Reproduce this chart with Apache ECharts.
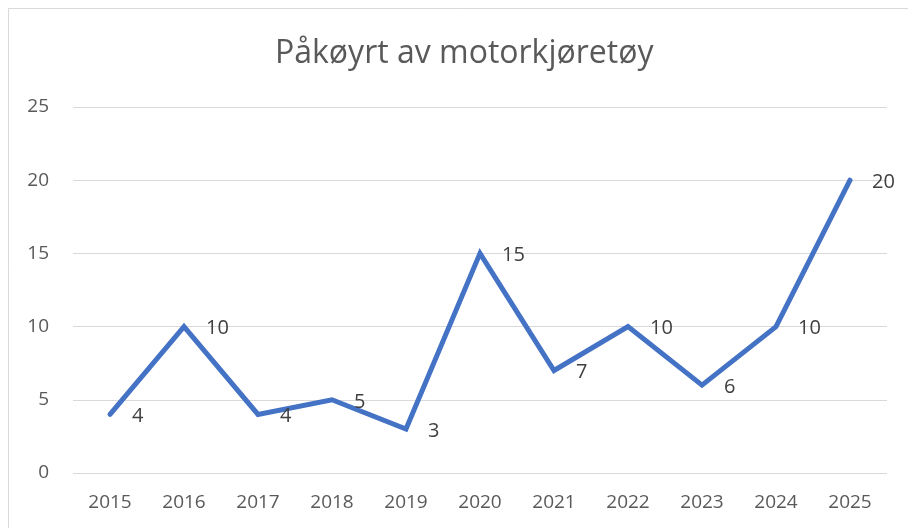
<!DOCTYPE html>
<html>
<head>
<meta charset="utf-8">
<script src="https://cdn.jsdelivr.net/npm/echarts@6/dist/echarts.min.js"></script>
<style>
html, body { margin: 0; padding: 0; background: #fff; }
#lineChart { width: 908px; height: 528px; }
</style>
</head>
<body>
<div id="lineChart"></div>
<script>
let years = ['2015', '2016', '2017', '2018', '2019', '2020', '2021', '2022', '2023', '2024', '2025'];
let counts = [4, 10, 4, 5, 3, 15, 7, 10, 6, 10, 20];
let yTicks = [0, 5, 10, 15, 20, 25];

let myChart = echarts.init(document.getElementById('lineChart'));
myChart.setOption({
    backgroundColor: '#fff',
    textStyle: { fontFamily: 'Open Sans' },
    title: {
        text: 'Påkøyrt av motorkjøretøy',
        left: 270,
        top: 33,
        textStyle: {
            color: '#595959',
            fontSize: 32,
            fontWeight: 'normal',
            fontFamily: 'Open Sans'
        }
    },
    // ramme rundt diagrammet
    graphic: [{
        type: 'rect',
        shape: { x: 8.5, y: 8.5, width: 920, height: 540 },
        style: { fill: 'none', stroke: '#d9d9d9', lineWidth: 1 },
        silent: true
    }],
    grid: { left: 73, right: 21, top: 107, bottom: 55 },
    xAxis: {
        type: 'category',
        data: years,
        boundaryGap: true,
        axisLine: { show: false },
        axisTick: { show: false },
        axisLabel: { color: '#595959', fontSize: 19, margin: 20 }
    },
    yAxis: {
        type: 'value',
        min: yTicks[0],
        max: yTicks[yTicks.length - 1],
        interval: 5,
        axisLine: { show: false },
        axisTick: { show: false },
        axisLabel: { color: '#595959', fontSize: 19, margin: 24 },
        splitLine: { lineStyle: { color: '#d9d9d9', width: 1 } }
    },
    series: [{
        type: 'line',
        data: counts,
        symbol: 'circle',
        symbolSize: 0,
        showSymbol: true,
        itemStyle: { color: '#4472c4' },
        lineStyle: { color: '#4472c4', width: 5, cap: 'round', join: 'miter' },
        label: {
            show: true,
            position: 'right',
            distance: 22,
            offset: [0, 2],
            color: '#404040',
            opacity: 1,
            fontSize: 20
        }
    }]
});
window.addEventListener('resize', function () {
    myChart.resize();
});
</script>
</body>
</html>
